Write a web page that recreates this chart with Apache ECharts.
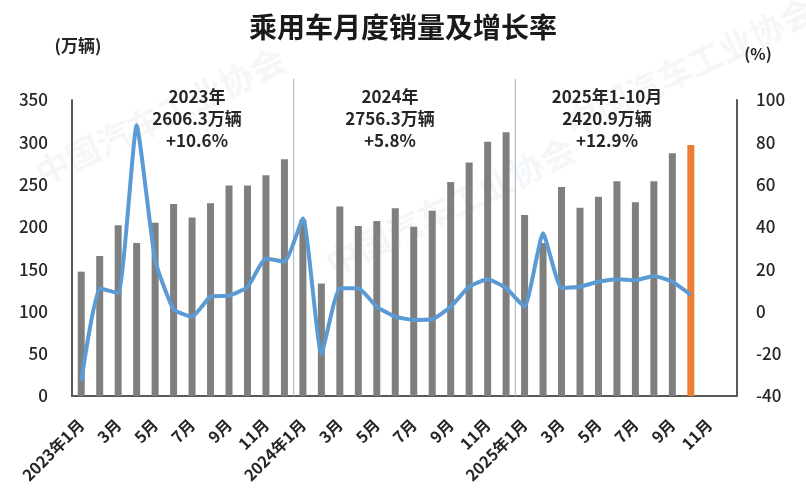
<!DOCTYPE html>
<html>
<head>
<meta charset="utf-8">
<script src="https://cdn.jsdelivr.net/npm/echarts@6/dist/echarts.min.js"></script>
<style>
html,body{margin:0;padding:0;background:#fff;}
#c{width:806px;height:488px;}
</style>
</head>
<body>
<div id="c"></div>
<script>
const categories = [
  '2023年1月','2月','3月','4月','5月','6月','7月','8月','9月','10月','11月','12月',
  '2024年1月','2月','3月','4月','5月','6月','7月','8月','9月','10月','11月','12月',
  '2025年1月','2月','3月','4月','5月','6月','7月','8月','9月','10月','11月','12月'
];
const sales = [
  147, 165.5, 202, 181, 205, 227, 211, 228, 249, 249, 261, 280,
  208.7, 133, 224, 201, 207, 222, 200, 219, 253, 276, 300.6, 312,
  214, 181, 247, 222.6, 235.6, 254, 229, 254, 287, 296.7, null, null
];
const growth = [
  -33, 11, 8.6, 88, 24.3, 1, -2.5, 7, 7.5, 11.5, 25, 23.5,
  44, -20, 11, 11, 2.2, -2.5, -4, -3.7, 2.2, 11.7, 15.2, 11,
  2.2, 37, 11, 11.7, 14, 15.2, 14.8, 16.8, 14, 7.8, null, null
];
const highlightIndex = 33;
const yearBoundaries = [12, 24];
const leftTicks = {min: 0, max: 350, interval: 50};
const rightTicks = {min: -40, max: 100, interval: 20};
const annotations = [
  {text: '2023年\n2606.3万辆\n+10.6%', x: 197},
  {text: '2024年\n2756.3万辆\n+5.8%', x: 390},
  {text: '2025年1-10月\n2420.9万辆\n+12.9%', x: 607}
];

const FONT = '"Noto Sans CJK SC","Noto Sans",sans-serif';
const chart = echarts.init(document.getElementById('c'), null, {renderer: 'canvas'});

const barData = sales.map((v, i) => i === highlightIndex
  ? {value: v, itemStyle: {color: '#ed7d31'}} : v);

const graphics = annotations.map(a => ({
  type: 'text', x: a.x, y: 86, z: 10,
  style: {
    text: a.text, textAlign: 'center', fill: '#262626',
    font: 'bold 17px ' + FONT, lineHeight: 22
  }
}));

graphics.push(
  {type: 'text', x: 78, y: 37, style: {text: '(万辆)', textAlign: 'center', fill: '#262626', font: 'bold 17px ' + FONT}},
  {type: 'text', x: 758, y: 46, style: {text: '(%)', textAlign: 'center', fill: '#262626', font: 'bold 16px ' + FONT}}
);

// faint watermark
[[30, 160], [320, 250], [560, 110]].forEach(p => graphics.push({
  type: 'text', x: p[0], y: p[1], rotation: Math.PI / 7, z: -10,
  style: {text: '中国汽车工业协会', fill: 'rgba(205,212,218,0.22)', font: 'bold 34px ' + FONT}
}));

const option = {
  backgroundColor: '#fff',
  animation: false,
  title: {
    text: '乘用车月度销量及增长率',
    left: 'center', top: 8,
    textStyle: {fontFamily: FONT, fontSize: 28, fontWeight: 'bold', color: '#1a1a1a'}
  },
  grid: {left: 72, right: 69, top: 100, bottom: 92, containLabel: false},
  xAxis: [{
    type: 'category',
    data: categories,
    boundaryGap: true,
    axisLine: {lineStyle: {color: '#595959', width: 2}},
    axisTick: {show: false},
    axisLabel: {
      interval: 1, rotate: 45, color: '#262626',
      fontFamily: FONT, fontSize: 16, fontWeight: 'bold', margin: 26
    },
    splitLine: {show: false}
  }, {
    type: 'value', min: 0, max: categories.length, show: false
  }],
  yAxis: [{
    type: 'value', min: leftTicks.min, max: leftTicks.max, interval: leftTicks.interval,
    axisLine: {show: true, lineStyle: {color: '#595959', width: 2}},
    axisTick: {show: false},
    splitLine: {show: false},
    axisLabel: {color: '#262626', fontFamily: FONT, fontSize: 17, fontWeight: 500, margin: 24}
  }, {
    type: 'value', min: rightTicks.min, max: rightTicks.max, interval: rightTicks.interval,
    axisLine: {show: true, lineStyle: {color: '#595959', width: 2}},
    axisTick: {show: false},
    splitLine: {show: false},
    axisLabel: {color: '#262626', fontFamily: FONT, fontSize: 17, fontWeight: 500, margin: 19}
  }],
  series: [{
    type: 'custom', name: 'sep',
    xAxisIndex: 1, yAxisIndex: 0, clip: false,
    data: yearBoundaries.map(b => [b]),
    encode: {x: 0},
    silent: true,
    renderItem: function (params, api) {
      const p0 = api.coord([api.value(0), 0]);
      const p1 = api.coord([api.value(0), 375]);
      return {
        type: 'line',
        shape: {x1: p0[0], y1: p0[1], x2: p1[0], y2: p1[1]},
        style: {stroke: '#9fb3c6', lineWidth: 1}
      };
    },
    z: 1
  }, {
    type: 'bar', name: '销量', data: barData,
    xAxisIndex: 0, yAxisIndex: 0,
    barWidth: 7,
    itemStyle: {color: '#7f7f7f'},
    z: 2
  }, {
    type: 'line', name: '增长率', data: growth,
    xAxisIndex: 0, yAxisIndex: 1,
    symbol: 'none', smooth: 0.15,
    lineStyle: {color: '#5b9bd5', width: 4},
    z: 3
  }],
  graphic: graphics
};
chart.setOption(option);
</script>
</body>
</html>
